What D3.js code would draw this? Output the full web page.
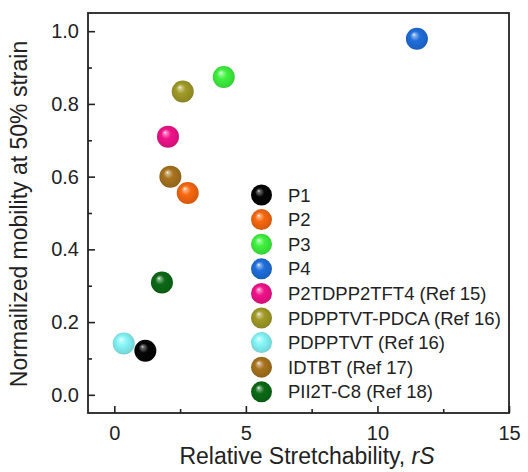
<!DOCTYPE html>
<html>
<head>
<meta charset="utf-8">
<script src="https://cdn.jsdelivr.net/npm/d3@7"></script>
<style>
  html, body { margin: 0; padding: 0; background: #fff; }
  svg { display: block; }
  text { font-family: "Liberation Sans", Arial, sans-serif; fill: #222; }
</style>
</head>
<body>
<svg id="chart" width="528" height="472"></svg>
<script>
// ---- data ----
const seriesNames = ["P1", "P2", "P3", "P4", "P2TDPP2TFT4 (Ref 15)", "PDPPTVT-PDCA (Ref 16)",
                     "PDPPTVT (Ref 16)", "IDTBT (Ref 17)", "PII2T-C8 (Ref 18)"];
const stretchability = [1.18, 2.79, 4.16, 11.5, 2.04, 2.6, 0.36, 2.13, 1.81];
const normMobility   = [0.121, 0.555, 0.874, 0.979, 0.71, 0.834, 0.141, 0.60, 0.309];
const seriesColors = ["#050505", "#f8680f", "#3ef23e", "#1f6fdc", "#f2128a", "#a19b26",
                      "#86f6f8", "#a8731e", "#0b6a16"];
const xTickValues = [0, 5, 10, 15];
const xMinorTicks = [2.5, 7.5, 12.5];
const yTickValues = [0.0, 0.2, 0.4, 0.6, 0.8, 1.0];
const yMinorTicks = [0.1, 0.3, 0.5, 0.7, 0.9];
const xTitle = "Relative Stretchability, ";
const xTitleItalic = "rS";
const yTitle = "Normailized mobility at 50% strain";

// ---- layout ----
const svg = d3.select("#chart");
const L = 88, R = 509, T = 13, B = 413;
const x = d3.scaleLinear().domain([-1, 15]).range([L, R]);
const y = d3.scaleLinear().domain([-0.05, 1.05]).range([B, T]);

// gradients for spheres
const defs = svg.append("defs");
seriesColors.forEach((c, i) => {
  const base = d3.color(c);
  const g = defs.append("radialGradient")
    .attr("id", "ball" + i)
    .attr("cx", "50%").attr("cy", "50%").attr("r", "55%")
    .attr("fx", "36%").attr("fy", "30%");
  const hl = i === 0 ? "#d8d8d8" : "#ffffff";
  g.append("stop").attr("offset", "0%").attr("stop-color", hl);
  g.append("stop").attr("offset", "11%").attr("stop-color", d3.interpolateRgb(hl, c)(0.5));
  g.append("stop").attr("offset", "40%").attr("stop-color", c);
  g.append("stop").attr("offset", "85%").attr("stop-color", base.darker(0.35).formatHex());
  g.append("stop").attr("offset", "100%").attr("stop-color", base.darker(0.7).formatHex());
});

// axes
const xAxis = d3.axisBottom(x).tickValues(xTickValues).tickFormat(d3.format("d"))
  .tickSizeInner(-7).tickSizeOuter(0).tickPadding(13);
const gx = svg.append("g").attr("transform", `translate(0,${B})`).call(xAxis);
const xMinor = d3.axisBottom(x).tickValues(xMinorTicks).tickFormat("").tickSizeInner(-4).tickSizeOuter(0);
const gxm = svg.append("g").attr("transform", `translate(0,${B})`).call(xMinor);

const yAxis = d3.axisLeft(y).tickValues(yTickValues).tickFormat(d3.format(".1f"))
  .tickSizeInner(-7).tickSizeOuter(0).tickPadding(9);
const gy = svg.append("g").attr("transform", `translate(${L},0)`).call(yAxis);
const yMinor = d3.axisLeft(y).tickValues(yMinorTicks).tickFormat("").tickSizeInner(-4).tickSizeOuter(0);
const gym = svg.append("g").attr("transform", `translate(${L},0)`).call(yMinor);

[gx, gxm, gy, gym].forEach(g => {
  g.select(".domain").remove();
  g.selectAll(".tick line").attr("stroke", "#222").attr("stroke-width", 1.6);
  g.selectAll(".tick text").style("font-size", "20px").attr("fill", "#222")
    .style("font-family", "'Liberation Sans', Arial, sans-serif");
});

// frame
svg.append("rect").attr("x", L).attr("y", T).attr("width", R - L).attr("height", B - T)
  .attr("fill", "none").attr("stroke", "#222").attr("stroke-width", 1.8);

// points
svg.append("g").selectAll("circle").data(seriesNames).join("circle")
  .attr("cx", (d, i) => x(stretchability[i]))
  .attr("cy", (d, i) => y(normMobility[i]))
  .attr("r", 11)
  .attr("fill", (d, i) => `url(#ball${i})`);

// legend
const legX = 261.5, legY0 = 195, legDy = 24.6;
const leg = svg.append("g");
seriesNames.forEach((name, i) => {
  leg.append("circle").attr("cx", legX).attr("cy", legY0 + i * legDy).attr("r", 10.5)
    .attr("fill", `url(#ball${i})`);
  leg.append("text").attr("x", 288).attr("y", legY0 + i * legDy).attr("dy", "0.36em")
    .style("font-size", "18.5px").text(name);
});

// titles
const xt = svg.append("text").attr("x", 307).attr("y", 464)
  .attr("text-anchor", "middle").style("font-size", "23px");
xt.append("tspan").text(xTitle);
xt.append("tspan").style("font-style", "italic").text(xTitleItalic);

svg.append("text").attr("transform", `translate(27,${(T + B) / 2 + 1}) rotate(-90)`)
  .attr("text-anchor", "middle").style("font-size", "23px").text(yTitle);
</script>
</body>
</html>
